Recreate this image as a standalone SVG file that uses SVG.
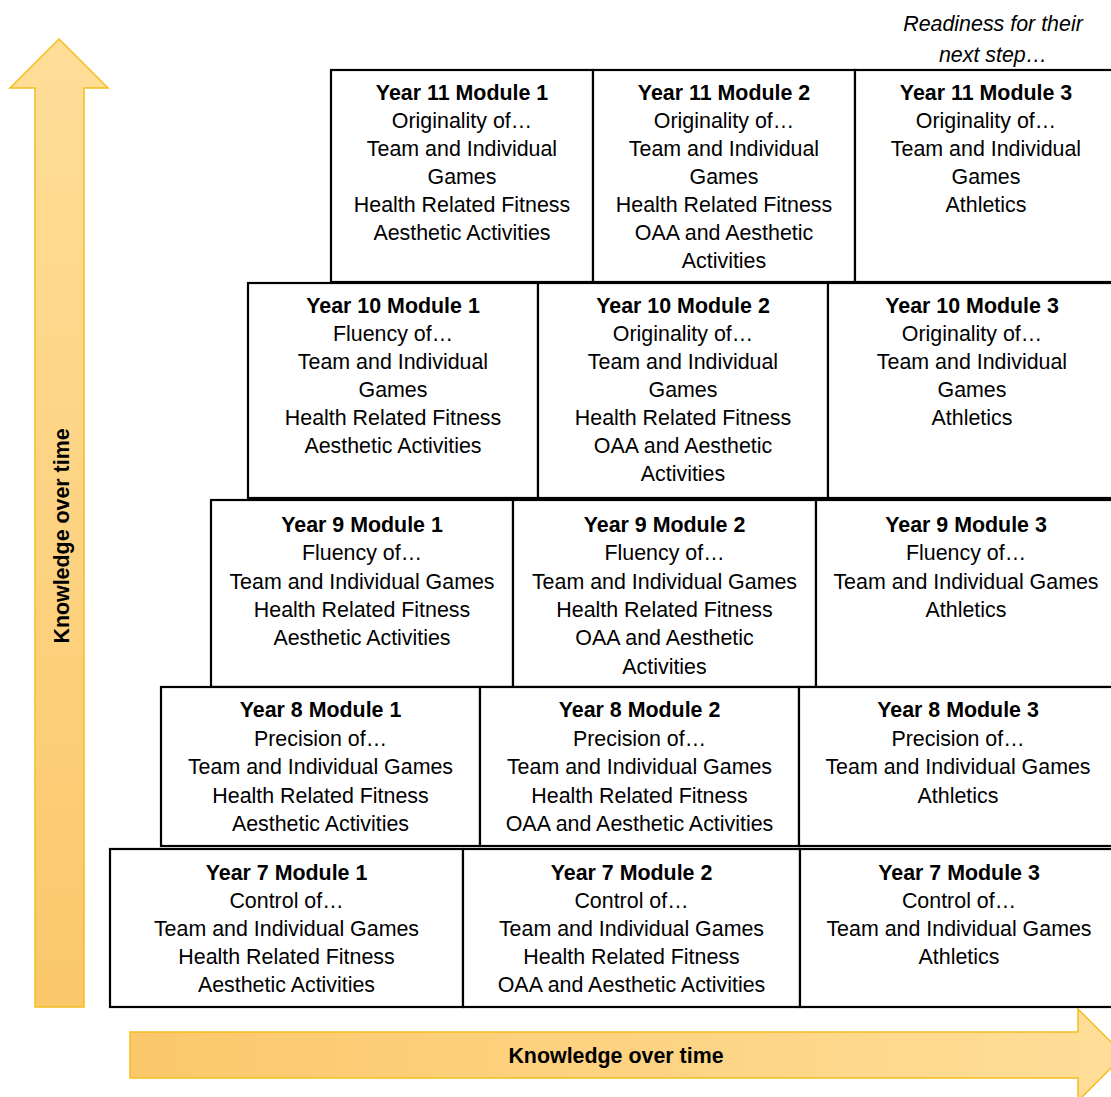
<svg xmlns="http://www.w3.org/2000/svg" width="1111" height="1097" viewBox="0 0 1111 1097">
<defs>
<linearGradient id="gv" x1="0" y1="1" x2="0" y2="0">
<stop offset="0" stop-color="#FBC86B"/>
<stop offset="1" stop-color="#FFDE99"/>
</linearGradient>
<linearGradient id="gh" x1="0" y1="0" x2="1" y2="0">
<stop offset="0" stop-color="#FBC86B"/>
<stop offset="1" stop-color="#FFDE99"/>
</linearGradient>
<style>
.box{fill:#fff;stroke:#000;stroke-width:2.2}
text{font-family:"Liberation Sans",Arial,sans-serif;font-size:21.4px;fill:#000;text-anchor:middle}
.b{font-weight:bold}
.arrow{stroke:#F5BE1E;stroke-width:1.5}
</style>
</defs>
<rect width="1111" height="1097" fill="#fff"/>
<g id="arrows">
<polygon class="arrow" fill="url(#gv)" points="35,1007 35,88 10,88 59,39 108,88 84,88 84,1007"/>
<polygon class="arrow" fill="url(#gh)" points="130,1032 1078,1032 1078,1009 1124,1055 1078,1101 1078,1078 130,1078"/>
<text class="b" x="69" y="536" transform="rotate(-90 69 536)">Knowledge over time</text>
<text class="b" x="616" y="1063">Knowledge over time</text>
</g>
<text x="993" y="31" style="font-style:italic">Readiness for their</text>
<text x="993" y="62" style="font-style:italic">next step…</text>

<g id="y11m1"><rect class="box" x="331" y="70" width="262" height="212"/>
<text x="462" y="100"><tspan class="b">Year 11 Module 1</tspan><tspan x="462" dy="28">Originality of…</tspan><tspan x="462" dy="28">Team and Individual</tspan><tspan x="462" dy="28">Games</tspan><tspan x="462" dy="28">Health Related Fitness</tspan><tspan x="462" dy="28">Aesthetic Activities</tspan></text></g>
<g id="y11m2"><rect class="box" x="593" y="70" width="262" height="212"/>
<text x="724" y="100"><tspan class="b">Year 11 Module 2</tspan><tspan x="724" dy="28">Originality of…</tspan><tspan x="724" dy="28">Team and Individual</tspan><tspan x="724" dy="28">Games</tspan><tspan x="724" dy="28">Health Related Fitness</tspan><tspan x="724" dy="28">OAA and Aesthetic</tspan><tspan x="724" dy="28">Activities</tspan></text></g>
<g id="y11m3"><rect class="box" x="855" y="70" width="262" height="212"/>
<text x="986" y="100"><tspan class="b">Year 11 Module 3</tspan><tspan x="986" dy="28">Originality of…</tspan><tspan x="986" dy="28">Team and Individual</tspan><tspan x="986" dy="28">Games</tspan><tspan x="986" dy="28">Athletics</tspan></text></g>

<g id="y10m1"><rect class="box" x="248" y="283" width="290" height="215"/>
<text x="393" y="313"><tspan class="b">Year 10 Module 1</tspan><tspan x="393" dy="28">Fluency of…</tspan><tspan x="393" dy="28">Team and Individual</tspan><tspan x="393" dy="28">Games</tspan><tspan x="393" dy="28">Health Related Fitness</tspan><tspan x="393" dy="28">Aesthetic Activities</tspan></text></g>
<g id="y10m2"><rect class="box" x="538" y="283" width="290" height="215"/>
<text x="683" y="313"><tspan class="b">Year 10 Module 2</tspan><tspan x="683" dy="28">Originality of…</tspan><tspan x="683" dy="28">Team and Individual</tspan><tspan x="683" dy="28">Games</tspan><tspan x="683" dy="28">Health Related Fitness</tspan><tspan x="683" dy="28">OAA and Aesthetic</tspan><tspan x="683" dy="28">Activities</tspan></text></g>
<g id="y10m3"><rect class="box" x="828" y="283" width="290" height="215"/>
<text x="972" y="313"><tspan class="b">Year 10 Module 3</tspan><tspan x="972" dy="28">Originality of…</tspan><tspan x="972" dy="28">Team and Individual</tspan><tspan x="972" dy="28">Games</tspan><tspan x="972" dy="28">Athletics</tspan></text></g>

<g id="y9m1"><rect class="box" x="211" y="500" width="302" height="187"/>
<text x="362" y="532"><tspan class="b">Year 9 Module 1</tspan><tspan x="362" dy="28.3">Fluency of…</tspan><tspan x="362" dy="28.3">Team and Individual Games</tspan><tspan x="362" dy="28.3">Health Related Fitness</tspan><tspan x="362" dy="28.3">Aesthetic Activities</tspan></text></g>
<g id="y9m2"><rect class="box" x="513" y="500" width="303" height="187"/>
<text x="664.5" y="532"><tspan class="b">Year 9 Module 2</tspan><tspan x="664.5" dy="28.3">Fluency of…</tspan><tspan x="664.5" dy="28.3">Team and Individual Games</tspan><tspan x="664.5" dy="28.3">Health Related Fitness</tspan><tspan x="664.5" dy="28.3">OAA and Aesthetic</tspan><tspan x="664.5" dy="28.3">Activities</tspan></text></g>
<g id="y9m3"><rect class="box" x="816" y="500" width="302" height="187"/>
<text x="966" y="532"><tspan class="b">Year 9 Module 3</tspan><tspan x="966" dy="28.3">Fluency of…</tspan><tspan x="966" dy="28.3">Team and Individual Games</tspan><tspan x="966" dy="28.3">Athletics</tspan></text></g>

<g id="y8m1"><rect class="box" x="161" y="687" width="319" height="159"/>
<text x="320.5" y="717"><tspan class="b">Year 8 Module 1</tspan><tspan x="320.5" dy="28.5">Precision of…</tspan><tspan x="320.5" dy="28.5">Team and Individual Games</tspan><tspan x="320.5" dy="28.5">Health Related Fitness</tspan><tspan x="320.5" dy="28.5">Aesthetic Activities</tspan></text></g>
<g id="y8m2"><rect class="box" x="480" y="687" width="319" height="159"/>
<text x="639.5" y="717"><tspan class="b">Year 8 Module 2</tspan><tspan x="639.5" dy="28.5">Precision of…</tspan><tspan x="639.5" dy="28.5">Team and Individual Games</tspan><tspan x="639.5" dy="28.5">Health Related Fitness</tspan><tspan x="639.5" dy="28.5">OAA and Aesthetic Activities</tspan></text></g>
<g id="y8m3"><rect class="box" x="799" y="687" width="319" height="159"/>
<text x="958" y="717"><tspan class="b">Year 8 Module 3</tspan><tspan x="958" dy="28.5">Precision of…</tspan><tspan x="958" dy="28.5">Team and Individual Games</tspan><tspan x="958" dy="28.5">Athletics</tspan></text></g>

<g id="y7m1"><rect class="box" x="110" y="849" width="353" height="158"/>
<text x="286.5" y="880"><tspan class="b">Year 7 Module 1</tspan><tspan x="286.5" dy="28">Control of…</tspan><tspan x="286.5" dy="28">Team and Individual Games</tspan><tspan x="286.5" dy="28">Health Related Fitness</tspan><tspan x="286.5" dy="28">Aesthetic Activities</tspan></text></g>
<g id="y7m2"><rect class="box" x="463" y="849" width="337" height="158"/>
<text x="631.5" y="880"><tspan class="b">Year 7 Module 2</tspan><tspan x="631.5" dy="28">Control of…</tspan><tspan x="631.5" dy="28">Team and Individual Games</tspan><tspan x="631.5" dy="28">Health Related Fitness</tspan><tspan x="631.5" dy="28">OAA and Aesthetic Activities</tspan></text></g>
<g id="y7m3"><rect class="box" x="800" y="849" width="318" height="158"/>
<text x="959" y="880"><tspan class="b">Year 7 Module 3</tspan><tspan x="959" dy="28">Control of…</tspan><tspan x="959" dy="28">Team and Individual Games</tspan><tspan x="959" dy="28">Athletics</tspan></text></g>
</svg>
